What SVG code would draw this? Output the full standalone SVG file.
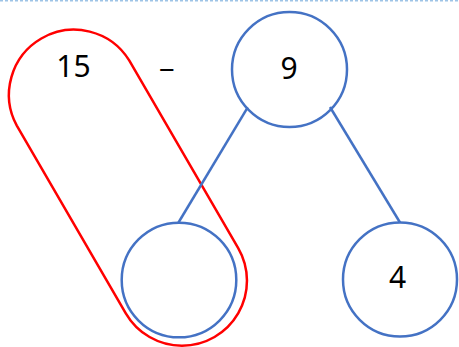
<svg xmlns="http://www.w3.org/2000/svg" width="459" height="347" viewBox="0 0 459 347">
  <style>
    .node { fill: none; stroke: #4472C4; stroke-width: 2.5; }
    .edge { stroke: #4472C4; stroke-width: 2.5; fill: none; }
    .group { fill: none; stroke: #FF0000; stroke-width: 2.5; stroke-linejoin: round; }
    .label { font-family: "Noto Sans", "Open Sans", sans-serif; font-size: 30px; fill: #000; text-anchor: middle; }
    .rule { stroke: #9DC3E6; stroke-width: 1.5; stroke-dasharray: 3 2; }
  </style>

  <rect width="459" height="347" fill="#fff"/>
  <line class="rule" x1="0" y1="0.8" x2="459" y2="0.8"/>

  <!-- capsule grouping 15 with the empty part -->
  <path class="group" d="M129.2,60.4 L238.2,248.1 A65,65 0 0 1 182,345.7 A65,65 0 0 1 125.8,313.3 L16.8,125.6 A65,65 0 0 1 129.2,60.4 Z"/>

  <g id="connectors">
    <line class="edge" x1="247.7" y1="107.3" x2="178.5" y2="222.5"/>
    <line class="edge" x1="330" y1="107" x2="400" y2="222.5"/>
  </g>

  <g id="whole">
    <text class="label" x="73.5" y="77">15</text>
  </g>
  <g id="minus">
    <text class="label" x="167" y="80" style="font-size:28px">−</text>
  </g>
  <g id="top">
    <circle class="node" cx="289.5" cy="69.5" r="57.5"/>
    <text class="label" x="289" y="79">9</text>
  </g>
  <g id="left-part">
    <circle class="node" cx="179" cy="280" r="57.3"/>
  </g>
  <g id="right-part">
    <circle class="node" cx="400" cy="279.5" r="57"/>
    <text class="label" x="397.5" y="288">4</text>
  </g>
</svg>
